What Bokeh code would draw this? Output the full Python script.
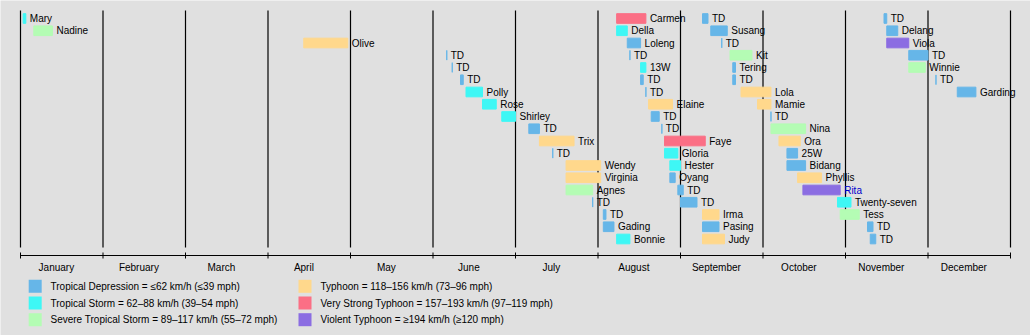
from bokeh.plotting import figure
from bokeh.models import Range1d, ColumnDataSource
from bokeh.embed import file_html
from bokeh.resources import INLINE
from bokeh.core.properties import value

# ---------------- data ----------------
months = ["January", "February", "March", "April", "May", "June", "July",
          "August", "September", "October", "November", "December"]
days_in_month = [31, 28, 31, 30, 31, 30, 31, 31, 30, 31, 30, 31]

storm_names = [
    "Mary", "Nadine", "Olive", "TD", "TD", "TD", "Polly", "Rose", "Shirley", "TD",
    "Trix", "TD", "Wendy", "Virginia", "Agnes", "TD", "TD", "Gading", "Bonnie",
    "Carmen", "Della", "Loleng", "TD", "13W", "TD", "TD", "Elaine", "TD", "TD",
    "Faye", "Gloria", "Hester", "Oyang", "TD", "TD", "Irma", "Pasing", "Judy",
    "TD", "Susang", "TD", "Kit", "Tering", "TD", "Lola", "Mamie", "TD", "Nina",
    "Ora", "25W", "Bidang", "Phyllis", "Rita", "Twenty-seven", "Tess", "TD", "TD",
    "TD", "Delang", "Viola", "TD", "Winnie", "TD", "Garding",
]
storm_start = [
    "01-02", "01-06", "04-14", "06-06", "06-08", "06-11", "06-13", "06-19", "06-26", "07-06",
    "07-10", "07-15", "07-20", "07-20", "07-20", "07-30", "08-03", "08-03", "08-08",
    "08-08", "08-08", "08-12", "08-13", "08-17", "08-17", "08-19", "08-20", "08-21", "08-25",
    "08-26", "08-26", "08-28", "08-28", "08-31", "09-01", "09-09", "09-09", "09-09",
    "09-09", "09-12", "09-16", "09-19", "09-20", "09-20", "09-23", "09-29", "10-04", "10-04",
    "10-07", "10-10", "10-10", "10-14", "10-16", "10-29", "10-30", "11-09", "11-10",
    "11-15", "11-16", "11-16", "11-24", "11-24", "12-04", "12-12",
]
storm_end = [
    "01-03", "01-13", "04-30", "06-06", "06-08", "06-12", "06-19", "06-24", "07-01", "07-10",
    "07-23", "07-15", "08-02", "08-02", "07-30", "07-30", "08-04", "08-07", "08-13",
    "08-19", "08-12", "08-17", "08-13", "08-19", "08-18", "08-19", "08-29", "08-24", "08-25",
    "09-10", "08-31", "09-01", "08-30", "09-02", "09-07", "09-15", "09-15", "09-17",
    "09-11", "09-18", "09-16", "09-27", "09-21", "09-21", "10-04", "10-04", "10-04", "10-17",
    "10-15", "10-14", "10-17", "10-23", "10-30", "11-03", "11-06", "11-11", "11-12",
    "11-16", "11-20", "11-24", "12-01", "11-30", "12-04", "12-19",
]
storm_class = [
    "TS", "STS", "TY", "TD", "TD", "TD", "TS", "TS", "TS", "TD",
    "TY", "TD", "TY", "TY", "STS", "TD", "TD", "TD", "TS",
    "VSTY", "TS", "TD", "TD", "TS", "TD", "TD", "TY", "TD", "TD",
    "VSTY", "TS", "TS", "TD", "TD", "TD", "TY", "TD", "TY",
    "TD", "TD", "TD", "STS", "TD", "TD", "TY", "TY", "TD", "STS",
    "TY", "TD", "TD", "TY", "VITY", "TS", "STS", "TD", "TD",
    "TD", "TD", "VITY", "TD", "STS", "TD", "TD",
]
storm_row = (list(range(19)) + list(range(19)) + list(range(19)) + list(range(7)))

class_keys = ["TD", "TS", "STS", "TY", "VSTY", "VITY"]
class_labels = [
    "Tropical Depression = \u226462 km/h (\u226439 mph)",
    "Tropical Storm = 62\u201388 km/h (39\u201354 mph)",
    "Severe Tropical Storm = 89\u2013117 km/h (55\u201372 mph)",
    "Typhoon = 118\u2013156 km/h (73\u201396 mph)",
    "Very Strong Typhoon = 157\u2013193 km/h (97\u2013119 mph)",
    "Violent Typhoon = \u2265194 km/h (\u2265120 mph)",
]

# ---------------- styles ----------------
class_colors = {"TD": "#66b6e8", "TS": "#3ef7f5", "STS": "#b4fcb4",
                "TY": "#ffd88c", "VSTY": "#fb6f85", "VITY": "#8b6de2"}
BG = "#e0e0e0"
FONT = value("Liberation Sans")
FS = "10px"

W, H = 1030, 335
X_LEFT_PX, MONTH_PX = 20.0, 82.5
Y_TOP_PX, ROW_PX = 18.0, 12.25
MONTH_LABEL_POS = 0.435  # fraction of month where label is centred


def mx(px):
    return (px - X_LEFT_PX) / MONTH_PX


def ry(py):
    return (py - Y_TOP_PX) / ROW_PX


def frac_month(s):
    m, d = map(int, s.split("-"))
    return (m - 1) + (d - 1) / days_in_month[m - 1]


p = figure(width=W, height=H, output_backend="svg", toolbar_location=None,
           x_range=Range1d(mx(0), mx(W)), y_range=Range1d(ry(H), ry(0)),
           x_axis_location=None, y_axis_location=None, min_border=0)
p.grid.visible = False
p.outline_line_color = None
p.background_fill_color = BG
p.border_fill_color = BG

# month separator lines
bounds = list(range(13))
p.segment(x0=bounds, y0=[ry(10)] * 13, x1=bounds, y1=[ry(247)] * 13,
          line_color="black", line_width=1.2)
# time axis
p.segment(x0=[0], y0=[ry(255)], x1=[12], y1=[ry(255)], line_color="black", line_width=1.2)
p.segment(x0=bounds, y0=[ry(252)] * 13, x1=bounds, y1=[ry(258)] * 13,
          line_color="black", line_width=1)
p.text(x=[i + MONTH_LABEL_POS for i in range(12)], y=[ry(267)] * 12, text=months,
       text_align="center", text_baseline="middle", text_font=FONT,
       text_font_size=FS, text_color="black")

# storm bars
half = 0.395
src = ColumnDataSource(dict(
    left=[frac_month(s) for s in storm_start],
    right=[frac_month(e) for e in storm_end],
    top=[r - half for r in storm_row],
    bottom=[r + half for r in storm_row],
    row=storm_row,
    name=storm_names,
    color=[class_colors[c] for c in storm_class],
    tcolor=["#0000cc" if n == "Rita" else "black" for n in storm_names],
))
p.quad(left="left", right="right", top="top", bottom="bottom", source=src,
       fill_color="color", line_color="color", line_width=1)
p.text(x="right", y="row", text="name", source=src, x_offset=4,
       text_align="left", text_baseline="middle", text_font=FONT,
       text_font_size=FS, text_color="tcolor")

# legend
leg_sq_x = [mx(34.7)] * 3 + [mx(304.5)] * 3
leg_txt_x = [mx(50)] * 3 + [mx(320)] * 3
leg_y = [ry(285.8), ry(302.5), ry(319.2)] * 2
p.rect(x=leg_sq_x, y=leg_y, width=13, height=13, width_units="screen",
       height_units="screen", fill_color=[class_colors[k] for k in class_keys],
       line_color=None)
p.text(x=leg_txt_x, y=leg_y, text=class_labels, text_align="left",
       text_baseline="middle", text_font=FONT, text_font_size=FS, text_color="black")

open("out.html", "w").write(file_html(p, INLINE))
